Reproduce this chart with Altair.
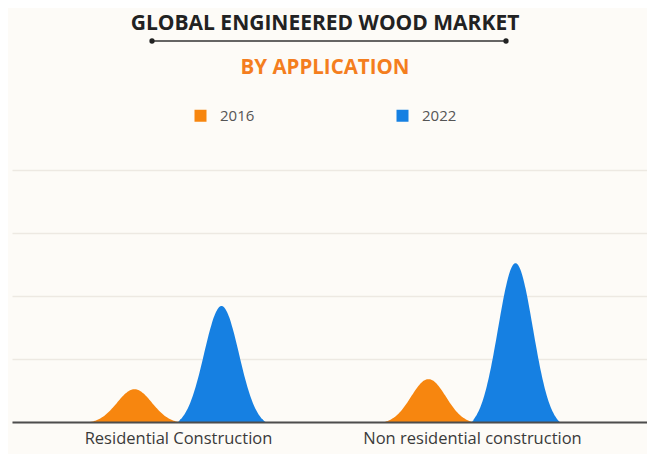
import json
import altair as alt
import pandas as pd

# ---- data ----
categories = ["Residential Construction", "Non residential construction"]
years = ["2016", "2022"]
values_2016 = [0.52, 0.68]
values_2022 = [1.84, 2.52]
title_text = ["GLOBAL ENGINEERED WOOD MARKET"]
subtitle_text = ["BY APPLICATION"]
colors = ["#F7860F", "#1680E2"]

rows = []
series = [values_2016, values_2022]
for ci, cat in enumerate(categories):
    for yi, yr in enumerate(years):
        rows.append({"category": cat, "ci": ci, "year": yr, "yi": yi, "value": series[yi][ci]})
df = pd.DataFrame(rows)

W, H = 635, 252
unit = 294.0
x_lo = -166 / unit
x_hi = (W - 166) / unit
k = 3.2

label_expr = "[" + ",".join(json.dumps(c) for c in categories) + "][datum.value]"

area = (
    alt.Chart(df)
    .transform_calculate(t="sequence(-1, 1.001, 0.025)")
    .transform_flatten(["t"])
    .transform_calculate(
        pos="datum.ci + (datum.yi - 0.5) * 0.296 + datum.t * 0.15",
        h=f"datum.value * (exp(-{k} * datum.t * datum.t) - exp(-{k})) / (1 - exp(-{k}))",
    )
    .mark_area(interpolate="monotone")
    .encode(
        x=alt.X(
            "pos:Q",
            scale=alt.Scale(domain=[x_lo, x_hi], nice=False, zero=False),
            axis=alt.Axis(
                values=[0, 1], labelExpr=label_expr, grid=False, ticks=False,
                domainColor="#4d4d4d", domainWidth=2, labelFontSize=16.5,
                labelFont="Open Sans", labelColor="#3a3a3a", labelPadding=8,
                labelLimit=0, title=None, labelOverlap=False, labelFlush=False,
                zindex=1,
            ),
        ),
        y=alt.Y(
            "h:Q",
            scale=alt.Scale(domain=[0, 4], nice=False),
            axis=alt.Axis(
                values=[0, 1, 2, 3, 4], grid=True, labels=False, ticks=False,
                domain=False, title=None, gridColor="#EDE9E2", gridWidth=1.5,
            ),
        ),
        color=alt.Color(
            "year:N",
            scale=alt.Scale(domain=years, range=colors),
            legend=alt.Legend(
                orient="none", legendX=181, legendY=-62, direction="horizontal",
                title=None, symbolType="square", symbolSize=144, symbolStrokeWidth=0,
                labelFontSize=15, labelFont="Open Sans", labelColor="#555555",
                labelOffset=12, columnPadding=140, padding=0,
            ),
        ),
        detail="category:N",
    )
)

one = pd.DataFrame({"a": [0]})
line = alt.Chart(one).mark_rule(color="#333333", strokeWidth=1.5).encode(
    x=alt.value(140), x2=alt.value(494), y=alt.value(-129)
)
dot_l = alt.Chart(one).mark_circle(size=28, color="#222222", opacity=1).encode(
    x=alt.value(140), y=alt.value(-129)
)
dot_r = alt.Chart(one).mark_circle(size=28, color="#222222", opacity=1).encode(
    x=alt.value(494), y=alt.value(-129)
)
title = alt.Chart(pd.DataFrame({"t": title_text})).mark_text(
    fontSize=21, fontWeight="bold", font="Open Sans", color="#222222",
    baseline="middle", align="center",
).encode(text="t:N", x=alt.value(313), y=alt.value(-146))
subtitle = alt.Chart(pd.DataFrame({"t": subtitle_text})).mark_text(
    fontSize=20.5, fontWeight="bold", font="Open Sans", color="#F47E1E",
    baseline="middle", align="center",
).encode(text="t:N", x=alt.value(313), y=alt.value(-102))

chart = (
    alt.layer(area, line, dot_l, dot_r, title, subtitle)
    .properties(
        width=W, height=H, autosize="none",
        padding={"left": 4, "top": 162, "right": 0, "bottom": 32},
    )
    .configure(background="#FDFBF7")
    .configure_view(stroke=None)
)

chart.save("out.html", embed_options={"renderer": "svg", "actions": False})
